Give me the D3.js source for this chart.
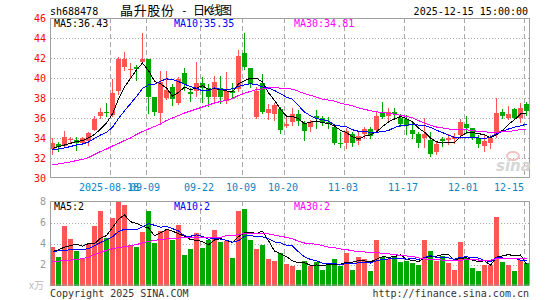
<!DOCTYPE html>
<html>
<head>
<meta charset="utf-8">
<script src="https://cdn.jsdelivr.net/npm/d3@7"></script>
<style>
  body { margin: 0; background: #fff; }
  svg { display: block; }
  text { font-family: "DejaVu Sans Mono", monospace; font-size: 10px; }
</style>
</head>
<body>
<svg id="chart" width="545" height="300"></svg>
<script>
// 交易日 (2025-08-18 .. 2025-12-15)
const dates = [
  "08-18","08-19","08-20","08-21","08-22","08-25","08-26","08-27","08-28","08-29",
  "09-01","09-02","09-03","09-04","09-05","09-08","09-09","09-10","09-11","09-12",
  "09-15","09-16","09-17","09-18","09-19","09-22","09-23","09-24","09-25","09-26",
  "09-29","09-30","10-09","10-10","10-13","10-14","10-15","10-16","10-17","10-20",
  "10-21","10-22","10-23","10-24","10-27","10-28","10-29","10-30","10-31","11-03",
  "11-04","11-05","11-06","11-07","11-10","11-11","11-12","11-13","11-14","11-17",
  "11-18","11-19","11-20","11-21","11-24","11-25","11-26","11-27","11-28","12-01",
  "12-02","12-03","12-04","12-05","12-08","12-09","12-10","12-11","12-12","12-15"
];

const open = [
  32.9, 33.4, 33.2, 33.85, 33.85, 33.5, 33.75, 34.85, 36.2, 36.65,
  36.3, 38.75, 41.15, 40.85, 41.1, 41.6, 41.85, 38.1, 36.45, 38.0,
  39.1, 37.5, 40.45, 38.6, 38.7, 39.5, 39.05, 38.1, 39.05, 37.7,
  38.75, 38.9, 42.45, 40.95, 36.1, 39.45, 36.5, 36.4, 36.9, 35.2,
  35.65, 36.4, 35.5, 35.15, 36.2, 35.95, 35.65, 35.1, 33.55, 33.5,
  34.4, 33.7, 34.4, 34.9, 34.8, 36.55, 36.25, 36.6, 36.05, 35.9,
  34.85, 34.4, 33.95, 33.85, 32.6, 33.9, 33.85, 33.9, 34.35, 35.4,
  34.95, 34.0, 33.25, 33.5, 34.4, 36.6, 36.05, 36.85, 35.95, 37.35
];
const close = [
  33.45, 33.15, 34.15, 33.9, 33.55, 33.95, 34.5, 35.85, 36.65, 36.55,
  38.5, 41.9, 41.9, 40.9, 40.9, 41.85, 38.1, 36.65, 39.6, 38.8,
  37.85, 39.85, 39.35, 38.35, 39.55, 39.0, 38.1, 39.6, 38.1, 38.75,
  38.5, 42.2, 41.1, 39.35, 38.75, 36.6, 36.85, 37.3, 34.8, 35.4,
  36.4, 35.75, 34.75, 35.65, 35.95, 35.55, 35.35, 33.5, 33.5, 34.75,
  33.5, 34.25, 34.9, 34.2, 36.25, 36.1, 36.6, 36.35, 35.4, 35.25,
  34.4, 33.5, 34.4, 32.4, 33.4, 33.75, 34.0, 34.15, 35.6, 35.05,
  33.95, 33.4, 33.7, 34.05, 36.45, 36.25, 36.4, 35.95, 36.95, 36.7
];
const high = [
  34.05, 33.6, 34.75, 34.15, 34.1, 34.15, 34.65, 36.2, 37.05, 37.5,
  39.9, 42.1, 42.6, 41.5, 41.3, 44.5, 41.85, 38.1, 40.7, 40.7,
  39.4, 40.1, 41.0, 39.0, 41.65, 40.1, 39.4, 40.2, 40.2, 40.65,
  39.5, 42.8, 44.5, 41.05, 39.1, 40.35, 37.4, 37.5, 37.1, 36.3,
  37.0, 36.8, 35.75, 35.8, 36.8, 36.2, 36.15, 35.3, 34.6, 35.05,
  34.65, 34.6, 35.15, 35.15, 36.65, 37.6, 37.05, 37.05, 36.4, 36.3,
  35.5, 34.6, 36.05, 34.65, 33.65, 34.15, 34.4, 34.5, 35.85, 36.25,
  35.05, 34.35, 34.35, 34.35, 37.95, 36.85, 37.25, 37.0, 37.5, 37.6
];
const low = [
  32.4, 32.75, 33.1, 33.45, 32.85, 33.4, 33.35, 34.8, 36.05, 36.2,
  36.2, 38.4, 40.8, 39.95, 39.8, 41.55, 36.55, 36.3, 35.45, 37.9,
  37.3, 37.4, 38.8, 37.75, 38.2, 37.6, 37.2, 37.7, 37.5, 37.5,
  38.1, 38.7, 40.9, 39.1, 36.05, 36.45, 35.9, 35.8, 34.55, 35.15,
  35.3, 35.3, 33.8, 34.7, 35.05, 35.3, 34.95, 33.4, 33.15, 33.05,
  33.2, 33.4, 34.05, 34.0, 34.7, 36.0, 35.6, 35.85, 35.25, 34.4,
  34.0, 33.15, 33.15, 32.25, 32.4, 33.25, 33.4, 33.5, 34.0, 34.5,
  33.9, 33.15, 32.75, 33.0, 34.15, 36.0, 35.85, 35.85, 35.6, 36.3
];
// 成交量 (万手)
const volume = [
  3.65, 2.7, 5.71, 4.44, 3.24, 2.6, 3.97, 5.65, 7.05, 4.51,
  6.41, 7.94, 7.71, 3.81, 3.65, 5.14, 7.08, 4.03, 5.17, 5.3,
  4.3, 5.8, 2.95, 3.5, 5.0, 3.6, 4.3, 5.3, 4.1, 4.2,
  2.6, 7.05, 7.24, 4.29, 3.52, 3.81, 2.48, 2.29, 3.08, 2.06,
  1.81, 1.52, 2.38, 1.84, 2.22, 1.52, 2.0, 2.57, 1.9, 3.08,
  1.52, 2.76, 2.48, 1.37, 4.38, 2.76, 2.48, 2.76, 2.22, 2.32,
  2.13, 2.0, 4.29, 3.27, 2.32, 2.79, 2.13, 1.52, 4.19, 2.6,
  1.65, 1.37, 2.0, 2.0, 6.51, 2.22, 2.0, 1.37, 2.44, 2.13
];

// 均线起始段 (前期数据不在图中, 按图读取)
const ma5Head  = [32.97, 33.13, 33.3, 33.47];
const ma10Head = [32.8, 32.9, 33.0, 33.15, 33.3, 33.4, 33.6, 33.95, 34.3];
const ma30Head = [31.3, 31.4, 31.5, 31.6, 31.75, 31.85, 32.05, 32.35, 32.65, 32.9,
                  33.2, 33.45, 33.75, 34.0, 34.35, 34.65, 34.9, 35.15, 35.4, 35.75,
                  36.0, 36.25, 36.5, 36.7, 36.9, 37.1, 37.3, 37.5, 37.65];
const vma5Head  = [3.24, 3.4, 3.65, 3.8];
const vma10Head = [3.25, 3.3, 3.35, 3.4, 3.4, 3.45, 3.5, 3.8, 4.1];
const vma30Head = [2.3, 2.33, 2.37, 2.42, 2.48, 2.55, 2.7, 2.95, 3.15, 3.35,
                   3.5, 3.62, 3.7, 3.78, 3.9, 4.05, 4.2, 4.3, 4.38, 4.43,
                   4.48, 4.52, 4.55, 4.57, 4.6, 4.6, 4.58, 4.56, 4.56];

const maPeriods   = [5, 10, 30];
const priceMaLast = [36.43, 35.35, 34.81];
const volMaLast   = [2, 2, 2];

const priceTicks = [30, 32, 34, 36, 38, 40, 42, 44, 46];
const volTicks   = [2, 4, 6, 8];
const tickDates  = ["09-01","09-09","09-22","10-09","10-20","11-03","11-17","12-01","12-15"];
const tickLabels = ["2025-08-18","09-09","09-22","10-09","10-20","11-03","11-17","12-01","12-15"];

// ---------------------------------------------------------------
const svg = d3.select("#chart");
const RED = "#ff5555", GREEN = "#00a800", BORDER = "#a0a0a0", GRID = "#a8a8a8";
const maColors = ["#000000", "#0000ff", "#ff00ff"];

const pTop = 18, pBot = 178, vTop = 201, vBot = 285.5;

const x = d3.scaleBand().domain(d3.range(dates.length))
  .range([49.5, 529.5]).paddingInner(1 / 6).paddingOuter(1 / 12);
const cx = i => x(i) + x.bandwidth() / 2;
const y  = d3.scaleLinear().domain([30, 46]).range([pBot, pTop]);
const vy = d3.scaleLinear().domain([0, 8]).range([vBot, vTop + 0.5]);

function movingAvg(vals, n, head) {
  return vals.map((v, i) => i < n - 1 ? head[i] : d3.mean(vals.slice(i - n + 1, i + 1)));
}
const priceMa = [movingAvg(close, 5, ma5Head), movingAvg(close, 10, ma10Head), movingAvg(close, 30, ma30Head)];
const volMa   = [movingAvg(volume, 5, vma5Head), movingAvg(volume, 10, vma10Head), movingAvg(volume, 30, vma30Head)];

const isUp = i => close[i] >= open[i];

// grids
function panelGrid(top, bottom, scale, ticks) {
  const g = svg.append("g");
  g.selectAll(".h").data(ticks).join("line")
    .attr("x1", 51).attr("x2", 529)
    .attr("y1", d => Math.round(scale(d)) + 0.5).attr("y2", d => Math.round(scale(d)) + 0.5)
    .attr("stroke", GRID).attr("stroke-dasharray", "1,2");
  g.selectAll(".v").data(tickDates).join("line")
    .attr("x1", d => x(dates.indexOf(d)) + 0.5).attr("x2", d => x(dates.indexOf(d)) + 0.5)
    .attr("y1", top).attr("y2", bottom)
    .attr("stroke", GRID).attr("stroke-dasharray", "5,3");
}
panelGrid(pTop, pBot, y, priceTicks.filter(d => d > 30 && d < 46));
panelGrid(vTop, vBot, vy, volTicks.filter(d => d < 8));

// candles
const candles = svg.append("g").attr("shape-rendering", "crispEdges");
candles.selectAll("line").data(d3.range(dates.length)).join("line")
  .attr("x1", i => Math.floor(cx(i)) + 0.5).attr("x2", i => Math.floor(cx(i)) + 0.5)
  .attr("y1", i => Math.round(y(high[i]))).attr("y2", i => Math.round(y(low[i])) + 1)
  .attr("stroke", i => isUp(i) ? RED : GREEN);
candles.selectAll("rect").data(d3.range(dates.length)).join("rect")
  .attr("x", i => x(i)).attr("width", x.bandwidth())
  .attr("y", i => Math.round(y(Math.max(open[i], close[i]))))
  .attr("height", i => Math.max(1, Math.round(y(Math.min(open[i], close[i]))) - Math.round(y(Math.max(open[i], close[i])))))
  .attr("fill", i => isUp(i) ? RED : GREEN);

// volume bars
svg.append("g").attr("shape-rendering", "crispEdges")
  .selectAll("rect").data(d3.range(dates.length)).join("rect")
  .attr("x", i => x(i)).attr("width", x.bandwidth())
  .attr("y", i => Math.round(vy(volume[i])))
  .attr("height", i => vBot - Math.round(vy(volume[i])))
  .attr("fill", i => isUp(i) ? RED : GREEN);

// MA lines
function drawMa(series, scale) {
  series.forEach((s, k) => {
    svg.append("path")
      .datum(s)
      .attr("d", d3.line().x((d, i) => cx(i)).y(d => scale(d)))
      .attr("fill", "none").attr("stroke", maColors[k]).attr("stroke-width", 1)
      .attr("shape-rendering", "crispEdges");
  });
}
drawMa(priceMa, y);
drawMa(volMa, vy);

// borders
[[pTop, pBot], [vTop, vBot]].forEach(([t, b]) => {
  svg.append("rect").attr("x", 50.5).attr("y", t + 0.5).attr("width", 479).attr("height", b - t - 1)
    .attr("fill", "none").attr("stroke", BORDER);
});

// axis labels
svg.append("g").selectAll("text").data(priceTicks).join("text")
  .attr("x", 46).attr("y", d => y(d) + 3.5).attr("text-anchor", "end")
  .attr("fill", "#ff0000").text(d => d);
svg.append("g").selectAll("text").data(volTicks).join("text")
  .attr("x", 46).attr("y", d => vy(d) + 3.5).attr("text-anchor", "end")
  .attr("fill", "#999").text(d => d);
svg.append("text").attr("x", 44).attr("y", 289).attr("text-anchor", "end")
  .attr("fill", "#bbb").style("font-family", "'Noto Sans CJK SC'").text("x万");

svg.append("g").selectAll("text").data(tickDates).join("text")
  .attr("x", (d, k) => k === tickDates.length - 1 ? x(dates.indexOf(d)) : x(dates.indexOf(d)) - 1)
  .attr("y", 190.5)
  .attr("text-anchor", (d, k) => k === tickDates.length - 1 ? "end" : "middle")
  .attr("fill", "#0a84c8").text((d, k) => tickLabels[k]);

// MA legends
const legendX = [54, 174, 294];
maPeriods.forEach((p, k) => {
  svg.append("text").attr("x", legendX[k]).attr("y", 26.5).attr("fill", maColors[k])
    .text("MA" + p + ":" + priceMaLast[k].toFixed(2));
  svg.append("text").attr("x", legendX[k]).attr("y", 209.5).attr("fill", maColors[k])
    .text("MA" + p + ":" + volMaLast[k]);
});

// header
svg.append("text").attr("x", 50).attr("y", 14.5).attr("fill", "#000").text("sh688478");
svg.append("text").attr("x", 120).attr("y", 14.5).attr("textLength", 54)
  .style("font-family", "'Noto Sans CJK SC'").style("font-size", "13px").text("晶升股份");
svg.append("text").attr("x", 181).attr("y", 14).style("font-size", "11px").text("-");
svg.append("text").attr("x", 193).attr("y", 14.5).attr("textLength", 39)
  .style("font-family", "'Noto Sans CJK SC'").style("font-size", "12px").text("日K线图");
svg.append("text").attr("x", 528).attr("y", 14.5).attr("text-anchor", "end").text("2025-12-15 15:00:00");

// footer
svg.append("text").attr("x", 50).attr("y", 296.5).attr("fill", "#333").text("Copyright 2025 SINA.COM");
svg.append("text").attr("x", 529).attr("y", 296.5).attr("text-anchor", "end").attr("fill", "#333")
  .text("http://finance.sina.com.cn");

// watermark
svg.append("ellipse").attr("cx", 513).attr("cy", 156).attr("rx", 6).attr("ry", 4)
  .attr("fill", "none").attr("stroke", "#f2c4c4").attr("stroke-width", 2);
svg.append("text").attr("x", 496).attr("y", 171)
  .style("font-family", "'DejaVu Sans'").style("font-size", "15px").style("font-weight", "bold")
  .style("font-style", "italic").attr("fill", "#d6d6d6").text("sina");
</script>
</body>
</html>
